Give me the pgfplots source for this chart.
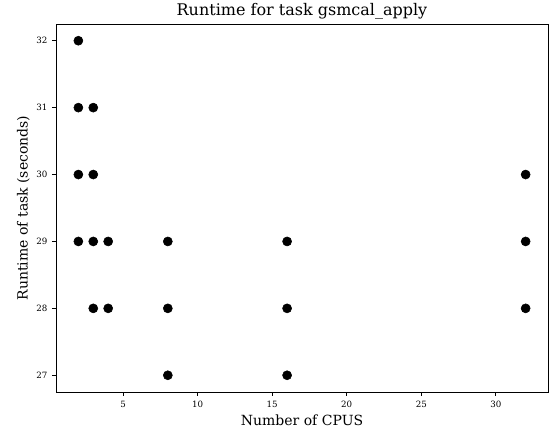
\documentclass[border=0pt]{standalone}
\usepackage{fontspec}
\setmainfont{DejaVu Serif}
\usepackage{pgfplots}
\pgfplotsset{compat=1.18}

\begin{document}
\begin{tikzpicture}
\begin{axis}[
    name=main,
    width=369pt, height=276pt,
    scale only axis,
    title={Runtime for task gsmcal\_apply},
    title style={font=\fontsize{12}{14}\selectfont, yshift=-6pt},
    xlabel={Number of CPUS},
    ylabel={Runtime of task (seconds)},
    label style={font=\fontsize{10.5}{12}\selectfont},
    xlabel style={yshift=1pt},
    ylabel style={yshift=-2pt},
    xmin=0.5, xmax=33.5,
    ymin=26.75, ymax=32.25,
    xtick={5,10,15,20,25,30},
    ytick={27,28,29,30,31,32},
    tick label style={font=\fontsize{6.5}{8}\selectfont},
    /pgf/number format/assume math mode=true,
    tick align=outside,
    xtick pos=bottom, ytick pos=left,
    major tick length=3pt,
    axis line style={line width=0.6pt},
    every tick/.style={black, line width=0.6pt},
]
\addplot[only marks, mark=*, mark size=3.4pt, black] coordinates {
    (2,32)(2,31)(2,30)(2,29)
    (3,31)(3,30)(3,29)(3,28)
    (4,29)(4,28)
    (8,29)(8,28)(8,27)
    (16,29)(16,28)(16,27)
    (32,30)(32,29)(32,28)
};
\end{axis}
\pgfresetboundingbox
\path ([xshift=-42pt,yshift=-31.5pt]main.south west) rectangle ([xshift=3.75pt,yshift=18pt]main.north east);
\end{tikzpicture}
\end{document}
